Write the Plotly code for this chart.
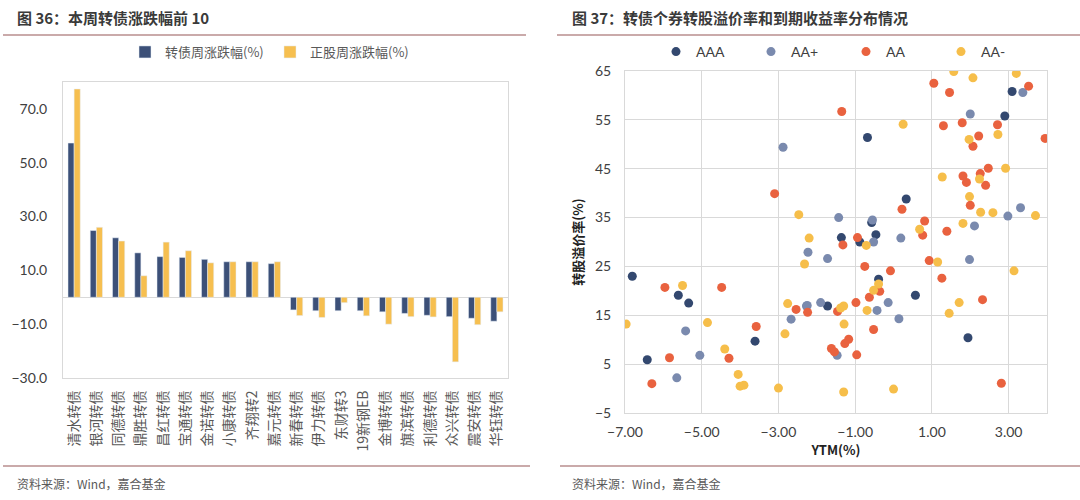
import plotly.graph_objects as go

# ---------------- Left chart data ----------------
bond_names = ["清水转债", "银河转债", "同德转债", "鼎胜转债", "昌红转债", "宝通转债", "金诺转债",
              "小康转债", "齐翔转2", "嘉元转债", "新春转债", "伊力转债", "东财转3", "19新钢EB",
              "金博转债", "旗滨转债", "利德转债", "众兴转债", "震安转债", "华钰转债"]
bond_chg = [57.3, 24.8, 22.1, 16.5, 15.1, 14.8, 14.1, 13.2, 13.2, 12.5,
            -4.7, -5.0, -5.0, -5.0, -5.4, -6.0, -6.7, -7.2, -7.8, -8.9]
stock_chg = [77.4, 26.0, 20.9, 8.0, 20.5, 17.3, 12.8, 13.2, 13.2, 13.2,
             -6.8, -7.5, -2.0, -6.9, -10.0, -7.2, -7.3, -24.0, -10.2, -5.4]
left_series = ["转债周涨跌幅(%)", "正股周涨跌幅(%)"]

# ---------------- Right chart data (YTM %, premium %) ----------------
aaa_x = [-6.81, -5.61, -5.34, -3.61, -6.42, -0.68, 3.09, 2.90, 0.33, -0.57, -1.36, -0.88, -0.46, -0.39, 0.57, 1.94, -1.72]
aaa_y = [23.0, 19.1, 17.5, 9.7, 5.9, 51.4, 60.8, 55.8, 38.8, 34.0, 30.9, 30.0, 31.5, 22.4, 19.1, 10.4, 16.9]

aap_x = [-2.88, -2.23, -1.72, 2.00, 3.37, 2.98, 3.31, -1.43, -0.55, 2.11, -0.52, 0.19, -5.42, -5.05, -5.65,
         -2.27, -2.67, 1.98, -0.43, 0.14, -1.90, -2.25, -1.47, -0.14]
aap_y = [49.4, 27.9, 26.6, 56.2, 60.6, 35.3, 37.0, 35.0, 34.5, 33.3, 30.0, 30.8, 11.8, 6.8, 2.2,
         16.9, 14.2, 26.4, 16.0, 14.3, 17.6, 17.0, 6.8, 17.6]

aa_x = [-3.10, 1.05, 1.46, 3.52, -1.35, 1.30, 1.79, 2.71, 2.22, 2.07, 3.95, 2.47, 2.26, 1.81, 1.90, 2.40,
        2.00, 0.22, 0.81, 0.76, 1.39, -0.94, -1.32, -5.96, -4.48, -3.58, -5.84, -4.29, -6.30, -2.54,
        -2.24, -0.75, -0.08, -0.36, -0.63, -0.98, 0.93, 1.26, 2.32, -0.52, -1.46, -1.17, -1.27, -1.62,
        -1.54, -0.96, 2.81]
aa_y = [39.9, 62.5, 60.6, 61.9, 56.7, 53.8, 54.4, 54.0, 51.7, 49.6, 51.2, 45.1, 44.0, 43.5, 42.2, 41.6,
        37.5, 36.7, 34.3, 31.4, 32.2, 30.9, 29.4, 20.7, 20.7, 12.7, 6.3, 6.2, 1.0, 16.2,
        15.6, 25.0, 24.1, 19.9, 18.7, 17.6, 26.2, 22.6, 18.2, 12.1, 15.8, 10.1, 9.2, 8.2,
        7.5, 6.9, 1.1]

aam_x = [1.57, 2.07, 3.20, 0.25, 2.72, 1.97, 2.92, 2.24, 1.27, 1.98, 2.27, 2.59, 3.70, 1.81, 0.68, -2.20,
         -0.71, -2.47, -5.50, -6.97, -4.85, -4.40, -4.05, -4.00, -3.90, -3.00, -2.32, -2.76, -2.83,
         -0.39, -0.52, 1.15, 3.14, 1.71, 1.45, -0.69, -1.38, -1.30, -1.29, -1.30, 0.00]
aam_y = [64.9, 63.6, 64.5, 54.1, 52.0, 51.0, 45.1, 42.9, 43.3, 39.3, 36.1, 36.0, 35.4, 33.8, 32.6, 30.8,
         29.3, 35.6, 21.1, 13.2, 13.5, 8.1, 2.9, 0.5, 0.7, 0.1, 25.5, 17.4, 11.2,
         21.4, 20.1, 25.9, 24.1, 17.6, 15.4, 16.0, 16.5, 16.9, 13.2, -0.7, -0.1]

rating_names = ["AAA", "AA+", "AA", "AA-"]
rating_colors = ["#33486F", "#7A8AAE", "#E9623F", "#F6BE4A"]

BLUE = "#3C5078"
YELLOW = "#F6BF50"
GRID = "#D9D9D9"
TXT = "#404040"
CJK = "Noto Sans CJK SC"
NUM = "Lato"

fig = go.Figure()

fig.add_trace(go.Bar(x=bond_names, y=bond_chg, name=left_series[0], marker_color=BLUE,
                     xaxis="x", yaxis="y", legend="legend"))
fig.add_trace(go.Bar(x=bond_names, y=stock_chg, name=left_series[1], marker_color=YELLOW,
                     xaxis="x", yaxis="y", legend="legend"))

for nm, col, xs, ys in zip(rating_names, rating_colors,
                           [aaa_x, aap_x, aa_x, aam_x], [aaa_y, aap_y, aa_y, aam_y]):
    fig.add_trace(go.Scatter(x=xs, y=ys, mode="markers", name=nm,
                             marker=dict(color=col, size=9, line=dict(width=0)),
                             xaxis="x2", yaxis="y2", legend="legend2"))

W, H = 1080, 500
def px(x):
    return x / W
def py(y):
    return 1 - y / H

fig.update_layout(
    width=W, height=H,
    margin=dict(l=0, r=0, t=0, b=0, autoexpand=False),
    paper_bgcolor="white", plot_bgcolor="white",
    font=dict(family=CJK, color=TXT, size=13),
    barmode="group", bargap=0.45, bargroupgap=0.0,
    xaxis=dict(domain=[px(63), px(508)], anchor="y", type="category", automargin=False,
               tickangle=-90, tickfont=dict(family=CJK, size=14, color="#595959"),
               showgrid=False, showline=True, linecolor=GRID, mirror=True,
               ticks="", ticklabelstandoff=6, zeroline=False),
    yaxis=dict(domain=[py(378), py(82)], anchor="x", range=[-30, 80], automargin=False,
               tickmode="array", tickvals=[-30, -10, 10, 30, 50, 70],
               tickformat=".1f", tickfont=dict(family=NUM, size=14, color=TXT),
               showgrid=False, showline=True, linecolor=GRID, mirror=True,
               zeroline=True, zerolinecolor=GRID, zerolinewidth=1,
               ticks="", ticklabelstandoff=12),
    xaxis2=dict(domain=[px(625), px(1047)], anchor="y2", range=[-7, 4], automargin=False,
                tickmode="array", tickvals=[-7, -5, -3, -1, 1, 3], tickformat=".2f",
                tickfont=dict(family=NUM, size=14, color=TXT),
                showgrid=True, gridcolor=GRID, showline=True, linecolor=GRID, mirror=True,
                zeroline=False, ticks="", ticklabelstandoff=6,
                title=dict(text="<b>YTM(%)</b>", font=dict(family=CJK, size=13, color="#222222"),
                           standoff=4)),
    yaxis2=dict(domain=[py(413), py(71)], anchor="x2", range=[-5, 65], automargin=False,
                tickmode="array", tickvals=[-5, 5, 15, 25, 35, 45, 55, 65],
                tickfont=dict(family=NUM, size=14, color=TXT),
                showgrid=True, gridcolor=GRID, showline=True, linecolor=GRID, mirror=True,
                zeroline=False, ticks="", ticklabelstandoff=10,
                title=dict(text="<b>转股溢价率(%)</b>", font=dict(family=CJK, size=13, color="#222222"),
                           standoff=8)),
    legend=dict(orientation="h", x=px(270), y=py(52), xanchor="center", yanchor="middle",
                font=dict(family=CJK, size=13, color="#595959"), bgcolor="rgba(0,0,0,0)",
                entrywidth=100, entrywidthmode="pixels", itemclick=False),
    legend2=dict(orientation="h", x=px(846), y=py(52), xanchor="center", yanchor="middle",
                 font=dict(family=NUM, size=14, color="#404040"), bgcolor="rgba(0,0,0,0)",
                 entrywidth=50, entrywidthmode="pixels", itemclick=False),
    showlegend=True,
)

LINE = "#B88E8E"
shapes = [
    dict(type="line", xref="paper", yref="paper", x0=px(3), x1=px(526), y0=py(35), y1=py(35),
         line=dict(color=LINE, width=1.5)),
    dict(type="line", xref="paper", yref="paper", x0=px(557), x1=px(1080), y0=py(35), y1=py(35),
         line=dict(color=LINE, width=1.5)),
    dict(type="line", xref="paper", yref="paper", x0=px(3), x1=px(530), y0=py(466), y1=py(466),
         line=dict(color=LINE, width=1.5)),
    dict(type="line", xref="paper", yref="paper", x0=px(560), x1=px(1080), y0=py(466), y1=py(466),
         line=dict(color=LINE, width=1.5)),
]
fig.update_layout(shapes=shapes)

annos = [
    dict(text="<b>图 36：本周转债涨跌幅前 10</b>", x=px(15), y=py(17), xanchor="left", yanchor="middle",
         font=dict(family=CJK, size=15, color="#3A3A3A")),
    dict(text="<b>图 37：转债个券转股溢价率和到期收益率分布情况</b>", x=px(570), y=py(17), xanchor="left",
         yanchor="middle", font=dict(family=CJK, size=15, color="#3A3A3A")),
    dict(text="资料来源：Wind，嘉合基金", x=px(15), y=py(483), xanchor="left", yanchor="middle",
         font=dict(family=CJK, size=12, color="#595959")),
    dict(text="资料来源：Wind，嘉合基金", x=px(570), y=py(483), xanchor="left", yanchor="middle",
         font=dict(family=CJK, size=12, color="#595959")),
]
for a in annos:
    a.update(xref="paper", yref="paper", showarrow=False)
fig.update_layout(annotations=annos)

fig.write_html("out.html", config={"displayModeBar": False},
               post_script="document.body.style.margin='0';document.body.style.overflow='hidden';")
